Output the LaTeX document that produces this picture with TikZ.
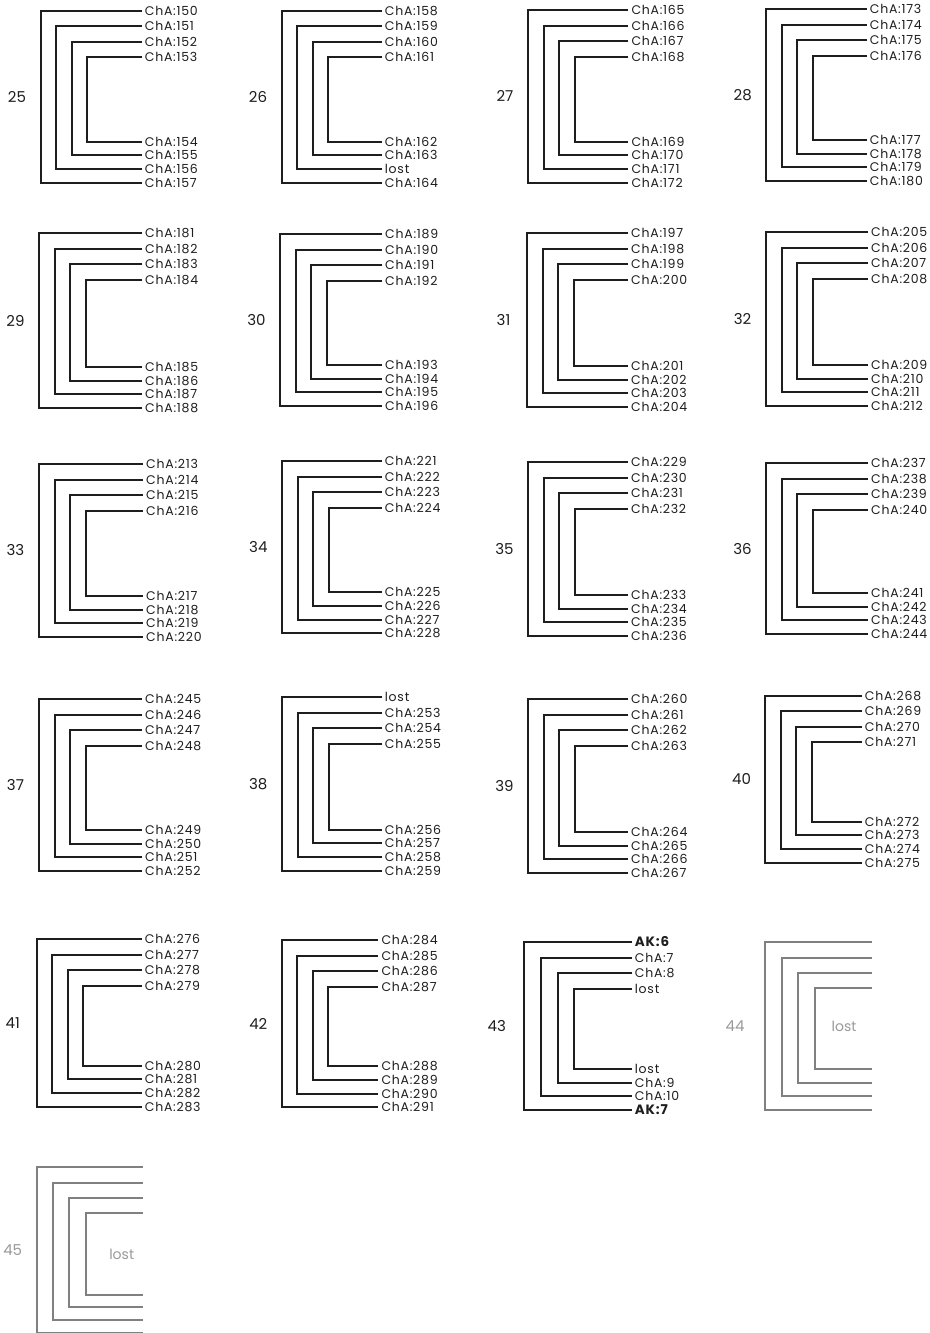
\documentclass[tikz,border=0pt]{standalone}
\usepackage{fontspec}
\setmainfont{Poppins}
\definecolor{ink}{HTML}{1E1E1E}
\definecolor{grayline}{HTML}{808080}
\definecolor{graytext}{HTML}{9A9A9A}
\tikzset{
  br/.style={draw=ink, line width=2pt},
  gbr/.style={draw=grayline, line width=2pt},
  lab/.style={anchor=west, inner sep=0pt, font=\fontsize{12.5}{13}\selectfont\addfontfeature{LetterSpace=6}, text=ink},
  num/.style={anchor=center, inner sep=0pt, font=\fontsize{15}{16}\selectfont, text=ink},
  gnum/.style={anchor=center, inner sep=0pt, font=\fontsize{15}{16}\selectfont, text=graytext},
  glost/.style={anchor=center, inner sep=0pt, font=\fontsize{14}{15}\selectfont, text=graytext},
}
% #1 id, #2 x0, #3 ytop, #4 ybot, #5 xright, #6 dx, #7 number offset, #8 labels
\newcommand\blk[8]{%
  \node[num] (n#1) at ({#2-#7},{(#3+#4)/2}) {#1};
  \foreach \i in {0,1,2,3}{%
    \pgfmathsetmacro\xa{round(#2+\i*#6)}
    \pgfmathsetmacro\ya{round(#3+\i*15.5)}
    \pgfmathsetmacro\yb{round(#4-\i*13.7)}
    \coordinate (t#1-\i) at ({round(#5)},\ya);
    \coordinate (b#1-\i) at ({round(#5)},\yb);
    \draw[br] (t#1-\i) -| (\xa,\yb) -- (b#1-\i);
  }
  \foreach \lab [count=\k from 0] in {#8}{%
    \ifnum\k<4 \pgfmathsetmacro\yy{round(#3+\k*15.5)}\else\pgfmathsetmacro\yy{round(#4-(7-\k)*13.7)}\fi
    \node[lab] (l#1-\k) at ({#5+3},\yy) {\lab};
  }
}
% gray block: #1 id, #2 x0, #3 ytop, #4 ybot, #5 xright, #6 dx, #7 number offset, #8 dy bottom
\newcommand\gblk[8]{%
  \node[gnum] (n#1) at ({#2-#7},{(#3+#4)/2}) {#1};
  \foreach \i in {0,1,2,3}{%
    \pgfmathsetmacro\xa{round(#2+\i*#6)}
    \pgfmathsetmacro\ya{round(#3+\i*15.3)}
    \pgfmathsetmacro\yb{round(#4-\i*#8)}
    \coordinate (t#1-\i) at ({round(#5)},\ya);
    \coordinate (b#1-\i) at ({round(#5)},\yb);
    \draw[gbr] (t#1-\i) -| (\xa,\yb) -- (b#1-\i);
  }
}
\begin{document}
\begin{tikzpicture}[x=1pt,y=-1pt]
\useasboundingbox[fill=white] (0,0) rectangle (929,1333);
% row 1
\blk{25}{40.7}{10.7}{182.7}{141.7}{15.5}{23.7}{ChA:150,ChA:151,ChA:152,ChA:153,ChA:154,ChA:155,ChA:156,ChA:157}
\blk{26}{281.7}{10.7}{182.7}{381.7}{15.5}{23.7}{ChA:158,ChA:159,ChA:160,ChA:161,ChA:162,ChA:163,lost,ChA:164}
\blk{27}{528.3}{10}{182.7}{628.3}{15.5}{23.3}{ChA:165,ChA:166,ChA:167,ChA:168,ChA:169,ChA:170,ChA:171,ChA:172}
\blk{28}{766}{9}{181}{866.7}{15.5}{23.3}{ChA:173,ChA:174,ChA:175,ChA:176,ChA:177,ChA:178,ChA:179,ChA:180}
% row 2
\blk{29}{39}{233}{408}{142}{15.5}{23.5}{ChA:181,ChA:182,ChA:183,ChA:184,ChA:185,ChA:186,ChA:187,ChA:188}
\blk{30}{280}{234}{406}{382}{15.5}{23.5}{ChA:189,ChA:190,ChA:191,ChA:192,ChA:193,ChA:194,ChA:195,ChA:196}
\blk{31}{527}{233}{407}{628}{15.5}{23.5}{ChA:197,ChA:198,ChA:199,ChA:200,ChA:201,ChA:202,ChA:203,ChA:204}
\blk{32}{766}{232}{406}{868}{15.5}{23.5}{ChA:205,ChA:206,ChA:207,ChA:208,ChA:209,ChA:210,ChA:211,ChA:212}
% row 3
\blk{33}{39}{464}{637}{143}{15.5}{23.5}{ChA:213,ChA:214,ChA:215,ChA:216,ChA:217,ChA:218,ChA:219,ChA:220}
\blk{34}{282.3}{461}{633.3}{381.7}{15.5}{24}{ChA:221,ChA:222,ChA:223,ChA:224,ChA:225,ChA:226,ChA:227,ChA:228}
\blk{35}{528}{462}{636}{628}{15.5}{23.5}{ChA:229,ChA:230,ChA:231,ChA:232,ChA:233,ChA:234,ChA:235,ChA:236}
\blk{36}{766}{463}{634}{868}{15.5}{23.5}{ChA:237,ChA:238,ChA:239,ChA:240,ChA:241,ChA:242,ChA:243,ChA:244}
% row 4
\blk{37}{39}{699}{871}{142}{15.5}{23.5}{ChA:245,ChA:246,ChA:247,ChA:248,ChA:249,ChA:250,ChA:251,ChA:252}
\blk{38}{282.3}{697.3}{870.7}{381.7}{15.5}{24}{lost,ChA:253,ChA:254,ChA:255,ChA:256,ChA:257,ChA:258,ChA:259}
\blk{39}{528}{699}{873}{628}{15.5}{23.5}{ChA:260,ChA:261,ChA:262,ChA:263,ChA:264,ChA:265,ChA:266,ChA:267}
\blk{40}{765}{695.7}{862.7}{861.7}{15.5}{23.5}{ChA:268,ChA:269,ChA:270,ChA:271,ChA:272,ChA:273,ChA:274,ChA:275}
% row 5
\blk{41}{36.7}{939}{1106.7}{141.7}{15.5}{24}{ChA:276,ChA:277,ChA:278,ChA:279,ChA:280,ChA:281,ChA:282,ChA:283}
\blk{42}{281.7}{940}{1107.3}{378.3}{15.5}{23.4}{ChA:284,ChA:285,ChA:286,ChA:287,ChA:288,ChA:289,ChA:290,ChA:291}
\blk{43}{524.3}{942.3}{1110}{631.7}{16.7}{27.6}{{\textbf{\fontsize{13.5}{14}\selectfont AK:6}},ChA:7,ChA:8,lost,lost,ChA:9,ChA:10,{\textbf{\fontsize{13.5}{14}\selectfont AK:7}}}
\gblk{44}{765}{942.3}{1110}{871.7}{16.7}{30}{13.7}
\node[glost] (lost44) at (844,1026) {lost};
% row 6
\gblk{45}{36.7}{1167.3}{1332.7}{143.3}{16.3}{24}{12.6}
\node[glost] (lost45) at (121.7,1254) {lost};
\end{tikzpicture}
\end{document}
